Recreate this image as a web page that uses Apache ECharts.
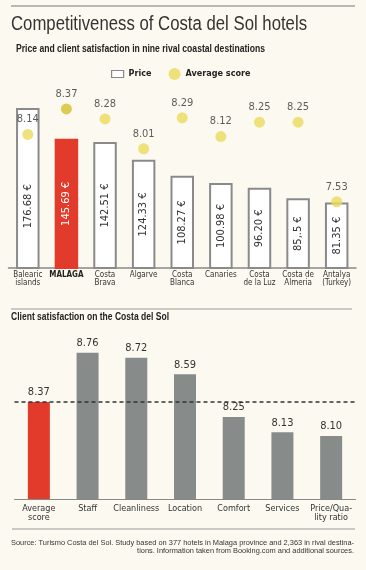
<!DOCTYPE html>
<html>
<head>
<meta charset="utf-8">
<script src="https://cdn.jsdelivr.net/npm/echarts@6/dist/echarts.min.js"></script>
<style>
html,body{margin:0;padding:0;background:#fcfaf0;}
#c{width:366px;height:570px;}
</style>
</head>
<body>
<div id="c"></div>
<script>
// Top chart data
const destinations = ['Balearic\nislands', 'MALAGA', 'Costa\nBrava', 'Algarve', 'Costa\nBlanca', 'Canaries', 'Costa\nde la Luz', 'Costa de\nAlmeria', 'Antalya\n(Turkey)'];
const prices = [176.68, 145.69, 142.51, 124.33, 108.27, 100.98, 96.20, 85.5, 81.35];
const priceLabels = ['176.68 €', '145.69 €', '142.51 €', '124.33 €', '108.27 €', '100.98 €', '96.20 €', '85,.5 €', '81.35 €'];
const scores = [8.14, 8.37, 8.28, 8.01, 8.29, 8.12, 8.25, 8.25, 7.53];
const highlightDestination = 'MALAGA';

// Bottom chart data
const aspects = ['Average\nscore', 'Staff', 'Cleanliness', 'Location', 'Comfort', 'Services', 'Price/Qua-\nlity ratio'];
const aspectScores = [8.37, 8.76, 8.72, 8.59, 8.25, 8.13, 8.10];
const averageScore = 8.37;

const NARROW = '"DejaVu Sans Condensed", "Liberation Sans Narrow", "Liberation Sans", sans-serif';
const RED = '#e23b2b';
const GRAY = '#878b8a';
const YELLOW = '#ebdb5c';
const YELLOW_DARK = '#d5bf2c';

const mctx = document.createElement('canvas').getContext('2d');
function fit(text, font, target) {
  mctx.font = font;
  const lines = text.split('\n');
  const w = Math.max(...lines.map(l => mctx.measureText(l).width));
  return target / w;
}
function fitText(text, font, x, y, target, extra) {
  const s = fit(text, font, target);
  return {type: 'text', x: x, y: y, scaleX: s, style: Object.assign({text: text, font: font, fill: '#222', verticalAlign: 'middle'}, extra || {})};
}

const chart = echarts.init(document.getElementById('c'), null, {renderer: 'canvas'});

const priceData = prices.map((v, i) => {
  const hi = destinations[i] === highlightDestination;
  const item = {
    value: v,
    itemStyle: hi ? {color: RED, borderColor: RED} : {},
    label: hi ? {color: '#fff'} : {}
  };
  // the tallest bar carries its score dot inside, so its label sits lower
  if (i === 0) item.label = {position: ['50%', '61%'], align: 'center', verticalAlign: 'middle'};
  return item;
});
const scoreData = scores.map((v, i) => {
  const hi = destinations[i] === highlightDestination;
  return {value: v, itemStyle: {color: hi ? YELLOW_DARK : YELLOW}};
});
const aspectData = aspectScores.map((v, i) => ({
  value: v,
  itemStyle: {color: i === 0 ? RED : GRAY}
}));

const titleFont = '20px "Liberation Sans", sans-serif';
const subFont = 'bold 10.5px "Liberation Sans", sans-serif';
const srcFont = '8px "Liberation Sans", sans-serif';
const src1 = 'Source: Turismo Costa del Sol. Study based on 377 hotels in Malaga province and 2,363 in rival destina-';
const src2 = 'tions. Information taken from Booking.com and additional sources.';
const srcScale = fit(src1, srcFont, 343);

chart.setOption({
  backgroundColor: '#fcfaf0',
  animation: false,
  graphic: [
    {type: 'line', shape: {x1: 11, y1: 6, x2: 355, y2: 6}, style: {stroke: '#777', lineWidth: 1}},
    fitText('Competitiveness of Costa del Sol hotels', titleFont, 11, 24, 296, {fill: '#333'}),
    fitText('Price and client satisfaction in nine rival coastal destinations', subFont, 16, 49, 249),
    {type: 'line', shape: {x1: 11, y1: 309, x2: 352, y2: 309}, style: {stroke: '#999', lineWidth: 1}},
    fitText('Client satisfaction on the Costa del Sol', subFont, 11, 317, 158),
    {type: 'line', shape: {x1: 12, y1: 529, x2: 355, y2: 529}, style: {stroke: '#999', lineWidth: 1}},
    {type: 'text', x: 354, y: 543, scaleX: srcScale, style: {text: src1, font: srcFont, fill: '#333', align: 'right', verticalAlign: 'middle'}},
    {type: 'text', x: 354, y: 550.5, scaleX: srcScale, style: {text: src2, font: srcFont, fill: '#333', align: 'right', verticalAlign: 'middle'}}
  ],
  legend: {
    left: 106, top: 63, selectedMode: false, itemWidth: 12, itemHeight: 12, itemGap: 17,
    textStyle: {fontFamily: NARROW, fontWeight: 'bold', fontSize: 9, color: '#222'},
    data: [
      {name: 'Price', icon: 'path://M0,0H12V7H0Z', itemStyle: {color: '#fff', borderColor: '#888', borderWidth: 1.2}},
      {name: 'Average score', icon: 'circle', itemStyle: {color: YELLOW}}
    ]
  },
  grid: [
    {left: 8.5, width: 347.5, top: 88, height: 180},
    {left: 14.5, width: 341, top: 330, height: 169}
  ],
  xAxis: [
    {type: 'category', gridIndex: 0, data: destinations,
     axisLine: {lineStyle: {color: '#888', width: 1.5}}, axisTick: {show: false},
     axisLabel: {margin: 3, fontFamily: NARROW, fontSize: 8, lineHeight: 8, color: '#333', interval: 0,
       formatter: v => v === highlightDestination ? '{b|' + v + '}' : v,
       rich: {b: {fontWeight: 'bold', fontFamily: NARROW, fontSize: 8, color: '#222'}}}},
    {type: 'category', gridIndex: 1, data: aspects,
     axisLine: {lineStyle: {color: '#888', width: 1}}, axisTick: {show: false},
     axisLabel: {margin: 5, fontFamily: NARROW, fontSize: 9, lineHeight: 9, color: '#333', interval: 0}}
  ],
  yAxis: [
    {type: 'value', gridIndex: 0, min: 15, max: 197, show: false},
    {type: 'value', gridIndex: 0, min: 6.93, max: 8.56, show: false},
    {type: 'value', gridIndex: 1, min: 7.6, max: 8.94, show: false}
  ],
  series: [
    {name: 'Price', type: 'bar', xAxisIndex: 0, yAxisIndex: 0, barWidth: 23.5,
     data: priceData,
     itemStyle: {color: '#fff', borderColor: '#8a8a8a', borderWidth: 2},
     label: {show: true, position: 'inside', rotate: 90, fontFamily: NARROW, fontSize: 11, color: '#333',
       formatter: p => priceLabels[p.dataIndex]}},
    {name: 'Average score', type: 'scatter', xAxisIndex: 0, yAxisIndex: 1, symbolSize: 11, z: 5,
     data: scoreData,
     label: {show: true, position: 'top', distance: 4, fontFamily: NARROW, fontSize: 11, color: '#333',
       formatter: p => p.value.toFixed(2)}},
    {name: 'Client satisfaction', type: 'bar', xAxisIndex: 1, yAxisIndex: 2, barWidth: 22,
     data: aspectData,
     label: {show: true, position: 'top', distance: 4, fontFamily: NARROW, fontSize: 11, color: '#333',
       formatter: p => p.value.toFixed(2)},
     markLine: {silent: true, symbol: 'none', label: {show: false},
       lineStyle: {color: '#333', type: [4, 3], width: 1.5},
       data: [{yAxis: averageScore}]}}
  ]
});
</script>
</body>
</html>
